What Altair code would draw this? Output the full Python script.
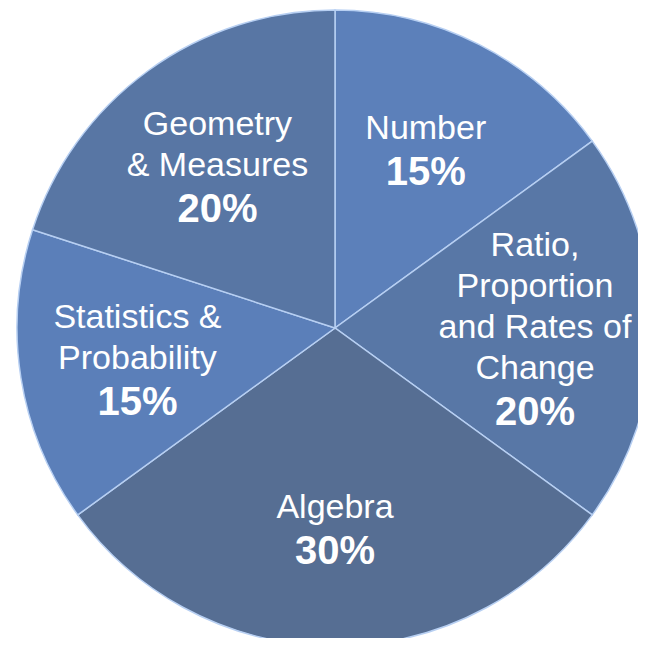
import altair as alt
import pandas as pd

categories = [
    "Number",
    "Ratio,\nProportion\nand Rates of\nChange",
    "Algebra",
    "Statistics &\nProbability",
    "Geometry\n& Measures",
]
shares = [15, 20, 30, 15, 20]
colors = ["#5c80ba", "#5877a6", "#566e93", "#5b7fb9", "#5876a4"]

df = pd.DataFrame({"category": categories, "share": shares, "order": list(range(len(categories)))})
df["nlines"] = [c.count("\n") + 1 for c in categories]
df["pct_text"] = [f"{s}%" for s in shares]
total = sum(shares)

cx, cy = 327, 320
LH = 41
R_LABEL = 200

theta_scale = alt.Scale(domain=[0, total])

pie = alt.Chart(df).mark_arc(stroke="#b7cff2", strokeWidth=1.5).encode(
    theta=alt.Theta("share:Q", stack=True, scale=theta_scale),
    order=alt.Order("order:Q"),
    color=alt.Color("category:N", scale=alt.Scale(domain=categories, range=colors), legend=None),
    x=alt.value(cx),
    y=alt.value(cy),
    radius=alt.value(318),
)

stacked = alt.Chart(df).transform_stack(
    stack="share", as_=["s0", "s1"], groupby=[], sort=[alt.SortField("order", order="ascending")]
).transform_calculate(mid="(datum.s0 + datum.s1) / 2")

layers = [pie]
for n in sorted(set(df["nlines"])):
    half = n * LH / 2
    sub = stacked.transform_filter(alt.datum.nlines == n)
    layers.append(
        sub.mark_text(
            font="Liberation Sans", fontSize=34, color="white", lineBreak="\n", lineHeight=LH,
            align="center", baseline="middle", dy=-half,
        ).encode(
            theta=alt.Theta("mid:Q", scale=theta_scale),
            text="category:N", x=alt.value(cx), y=alt.value(cy), radius=alt.value(R_LABEL)
        )
    )
    layers.append(
        sub.mark_text(
            font="Liberation Sans", fontSize=40, fontWeight="bold", color="white",
            align="center", baseline="middle", dy=half + 3,
        ).encode(
            theta=alt.Theta("mid:Q", scale=theta_scale),
            text="pct_text:N", x=alt.value(cx), y=alt.value(cy), radius=alt.value(R_LABEL)
        )
    )

chart = alt.layer(*layers).properties(
    width=630, height=630, autosize=alt.AutoSizeParams(type="none"), padding=0
).configure_view(stroke=None)

chart.save("out.html", embed_options={"renderer": "svg", "actions": False})
